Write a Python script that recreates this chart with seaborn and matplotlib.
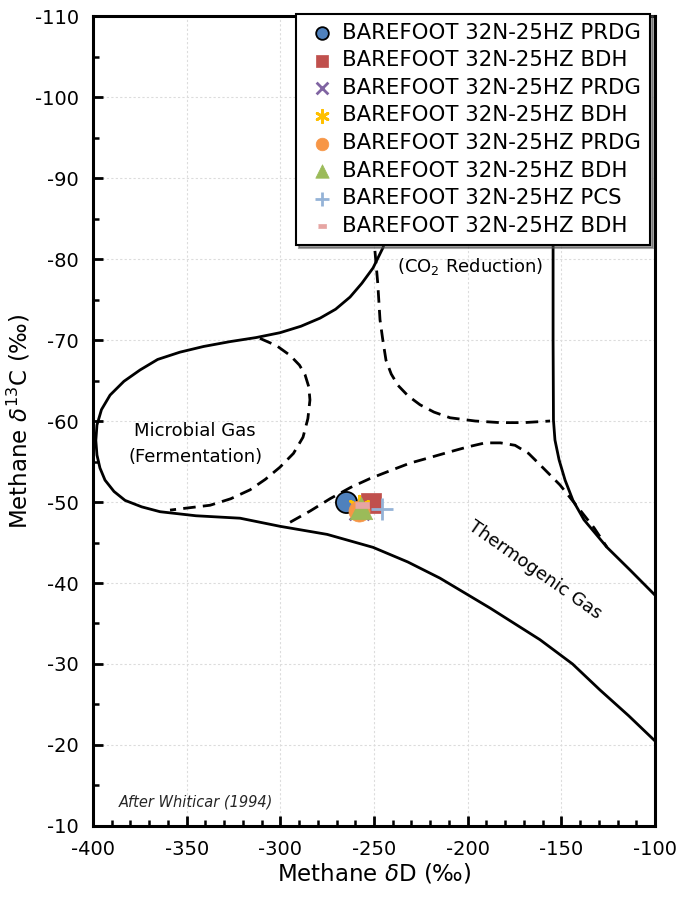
"""
Whiticar (1994) methane dD vs d13C classification chart
"""

import matplotlib
matplotlib.use("Agg")
import matplotlib.pyplot as plt
from matplotlib.ticker import MultipleLocator
import seaborn as sns

# ---- sample points ----
sample_labels = [
    "BAREFOOT 32N-25HZ PRDG",
    "BAREFOOT 32N-25HZ BDH",
    "BAREFOOT 32N-25HZ PRDG",
    "BAREFOOT 32N-25HZ BDH",
    "BAREFOOT 32N-25HZ PRDG",
    "BAREFOOT 32N-25HZ BDH",
    "BAREFOOT 32N-25HZ PCS",
    "BAREFOOT 32N-25HZ BDH",
]
sample_dD = [-265.0, -251.6, -258.0, -258.0, -258.0, -256.9, -245.9, -256.4]
sample_d13C = [-50.0, -49.9, -49.0, -49.5, -48.9, -49.3, -49.1, -49.6]

sample_colors = ["#4F81BD", "#C0504D", "#8064A2", "#FFC000",
                 "#F79646", "#9BBB59", "#95B3D7", "#E6A5A3"]
dash_marker = [(-1, -0.35), (1, -0.35), (1, 0.35), (-1, 0.35)]
sample_markers = ["o", "s", "x", (6, 2, 0), "o", "^", "+", dash_marker]
sample_sizes = [230, 200, 200, 220, 230, 260, 260, 110]

outer_dD = [-242.0, -245.2, -250.5, -256.5, -262.8, -270.5, -278.8, -289.0,
            -300.2, -313.0, -326.9, -341.0, -353.6, -365.5, -374.9, -383.5,
            -390.9, -395.5, -397.9, -398.5, -397.9, -396.3, -393.6, -388.8,
            -382.9, -374.0, -364.2, -345.0, -321.5, -300.2, -275.0, -250.5,
            -232.0, -214.8, -188.0, -161.4, -144.0, -129.4, -114.0, -100.0]
outer_d13C = [-84.0, -81.4, -78.9, -77.0, -75.3, -73.8, -72.7, -71.7,
              -70.9, -70.3, -69.8, -69.2, -68.5, -67.6, -66.3, -64.9,
              -63.2, -61.4, -59.5, -57.6, -55.8, -54.2, -52.7, -51.3,
              -50.2, -49.4, -48.8, -48.3, -48.0, -47.0, -46.0, -44.4,
              -42.6, -40.6, -36.9, -33.0, -30.0, -26.8, -23.6, -20.5]

vert_dD = [-154.4, -154.4, -154.2, -153.4, -151.2, -148.0, -143.8,
           -137.9, -125.6, -113.3, -100.0]
vert_d13C = [-95.0, -70.0, -60.1, -57.65, -55.2, -52.7, -50.2,
             -47.8, -44.4, -41.6, -38.5]

co2_dD = [-249.5, -248.0, -246.8, -245.3, -243.6, -240.8, -237.2, -231.8,
          -225.4, -218.0, -209.4, -196.0, -182.7, -170.0, -156.0]
co2_d13C = [-81.0, -77.0, -72.5, -70.0, -67.5, -65.8, -64.4, -63.1,
            -62.0, -61.1, -60.4, -60.0, -59.8, -59.8, -60.0]

ferm_dD = [-310.9, -302.0, -294.8, -289.8, -286.8, -284.8, -284.2, -285.3,
           -287.9, -293.0, -300.2, -308.0, -316.2, -326.5, -337.5, -358.9]
ferm_d13C = [-70.2, -69.3, -68.1, -66.9, -65.7, -64.2, -62.6, -60.3,
             -58.0, -56.0, -54.3, -52.8, -51.5, -50.4, -49.6, -49.0]

thermo_dD = [-294.8, -284.0, -273.5, -262.5, -252.1, -241.0, -230.8, -220.0,
             -209.4, -200.0, -190.7, -182.5, -174.7, -167.5, -161.4, -150.7,
             -140.0, -132.5, -125.6]
thermo_d13C = [-47.5, -48.9, -50.4, -51.8, -52.9, -53.9, -54.8, -55.5,
               -56.2, -56.8, -57.3, -57.3, -57.0, -56.0, -54.6, -52.1,
               -49.0, -46.8, -44.4]

x_ticks = [-400, -350, -300, -250, -200, -150, -100]
y_ticks = [-110, -100, -90, -80, -70, -60, -50, -40, -30, -20, -10]

sns.set_style("white")
plt.rcParams["font.family"] = ["DejaVu Sans"]
plt.rcParams["axes.unicode_minus"] = False
plt.rcParams["text.color"] = "black"

fig, ax = plt.subplots(figsize=(6.82, 9.05), dpi=100)
fig.subplots_adjust(left=0.1364, right=0.9604, top=0.9823, bottom=0.0873)

# boundaries
ax.plot(outer_dD, outer_d13C, color="black", lw=2.0, zorder=2)
ax.plot(vert_dD, vert_d13C, color="black", lw=2.0, zorder=2)
dash = (0, (4.5, 2.6))
ax.plot(co2_dD, co2_d13C, color="black", lw=2.0, ls=dash, zorder=2)
ax.plot(ferm_dD, ferm_d13C, color="black", lw=2.0, ls=dash, zorder=2)
ax.plot(thermo_dD, thermo_d13C, color="black", lw=2.0, ls=dash, zorder=2)

# samples
for i, lab in enumerate(sample_labels):
    m = sample_markers[i]
    filled = m not in ("x", "+") and not isinstance(m, tuple)
    kw = dict(color=sample_colors[i], s=sample_sizes[i], marker=m,
              label=lab, ax=ax, zorder=3 + i)
    if i == 0:
        kw.update(edgecolor="black", linewidth=1.3)
    elif filled:
        kw.update(edgecolor=sample_colors[i], linewidth=0.5)
    else:
        kw.update(linewidth=2.0)
    sns.scatterplot(x=[sample_dD[i]], y=[sample_d13C[i]], **kw)

# field labels
ax.text(-345.5, -58.8, "Microbial Gas", ha="center", va="center", fontsize=13)
ax.text(-345.5, -55.6, "(Fermentation)", ha="center", va="center", fontsize=13)
ax.text(-198.8, -79.1, "(CO$_2$ Reduction)", ha="center", va="center", fontsize=13)
ax.text(-164.0, -41.6, "Thermogenic Gas", ha="center", va="center",
        fontsize=13, rotation=-35)
ax.text(-345.0, -13.0, "After Whiticar (1994)", ha="center", va="center",
        fontsize=10.5, style="italic", color="#262626")

ax.set_xlim(-400, -100)
ax.set_ylim(-10, -110)
ax.set_xticks(x_ticks)
ax.set_yticks(y_ticks)
ax.xaxis.set_minor_locator(MultipleLocator(10))
ax.yaxis.set_minor_locator(MultipleLocator(5))
ax.tick_params(which="major", direction="in", length=7, width=2,
               labelsize=14, pad=10, bottom=True, left=True,
               labelcolor="black", color="black")
ax.tick_params(which="minor", direction="in", length=4.5, width=1.8,
               bottom=True, left=True, color="black")
ax.grid(True, which="major", color="#DCDCDC", ls=(0, (2, 2)), lw=0.8)
for sp in ax.spines.values():
    sp.set_color("black")
    sp.set_linewidth(2.2)

ax.set_xlabel("Methane $\\delta$D (‰)", fontsize=16.5, labelpad=2,
              color="black")
ax.set_ylabel("Methane $\\delta^{13}$C (‰)", fontsize=16.5, labelpad=2,
              color="black")

leg = ax.legend(loc="upper right", bbox_to_anchor=(0.991, 1.003),
                borderaxespad=0, fontsize=15.3, frameon=True, fancybox=False,
                shadow=True, markerscale=0.6, handletextpad=0.15,
                handlelength=1.6, labelspacing=0.36, borderpad=0.42)
leg.get_frame().set_edgecolor("black")
leg.get_frame().set_linewidth(1.5)
leg.set_zorder(20)
for t in leg.get_texts():
    t.set_color("black")

fig.savefig("out.png", dpi=100)
plt.close(fig)
